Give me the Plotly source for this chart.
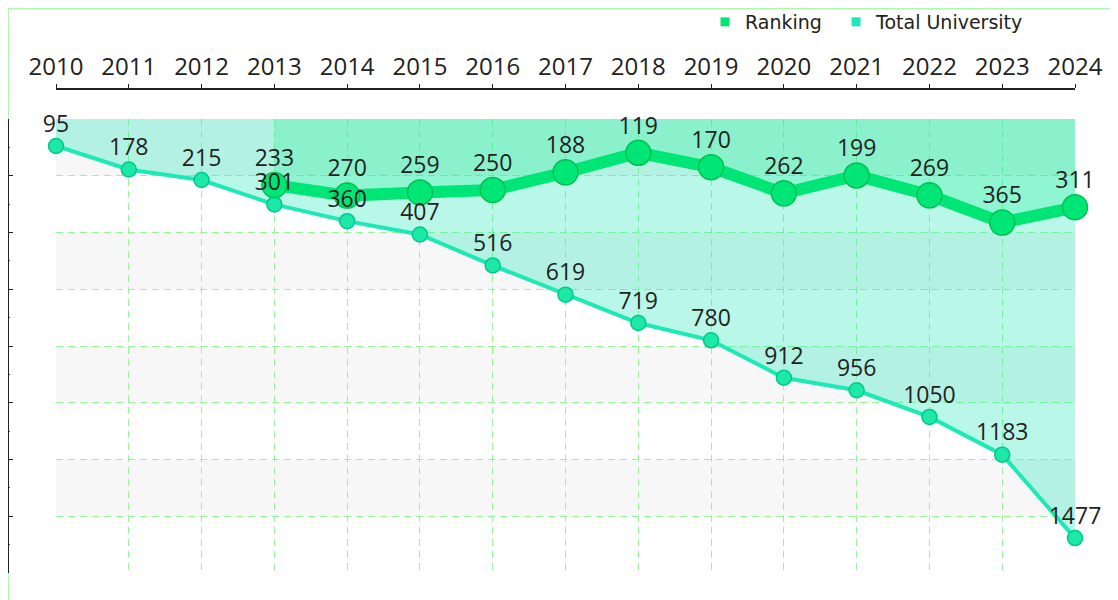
import plotly.graph_objects as go

years = list(range(2010, 2025))
total_university = [95, 178, 215, 301, 360, 407, 516, 619, 719, 780, 912, 956, 1050, 1183, 1477]
ranking_years = list(range(2013, 2025))
ranking = [233, 270, 259, 250, 188, 119, 170, 262, 199, 269, 365, 311]
y_ticks = list(range(0, 1601, 200))

FONT = "Open Sans"
LEG_FONT = "DejaVu Sans"
TU_COLOR = "#1de9b6"
RK_COLOR = "#00e676"
GRID = "#98f598"

fig = go.Figure()

fig.add_trace(go.Scatter(
    x=years, y=total_university, mode="lines+markers",
    name="Total University", showlegend=False,
    line=dict(color=TU_COLOR, width=4),
    marker=dict(size=15, color="#1de9a6", line=dict(color="#00c88c", width=1.5)),
    fill="tozeroy", fillcolor="rgba(29,233,182,0.31)",
    cliponaxis=False,
))
fig.add_trace(go.Scatter(
    x=ranking_years, y=ranking, mode="lines+markers",
    name="Ranking", showlegend=False,
    line=dict(color=RK_COLOR, width=12),
    marker=dict(size=25, color=RK_COLOR, line=dict(color="#00c050", width=1.5)),
    fill="tozeroy", fillcolor="rgba(0,235,130,0.22)",
    cliponaxis=False,
))
# value labels (invisible markers set the label offset)
fig.add_trace(go.Scatter(
    x=ranking_years, y=ranking, mode="markers+text", showlegend=False, hoverinfo="skip",
    marker=dict(size=20, opacity=0),
    text=[str(v) for v in ranking], textposition="top center",
    textfont=dict(family=FONT, size=23, color="#222222"),
    cliponaxis=False,
))
fig.add_trace(go.Scatter(
    x=years, y=total_university, mode="markers+text", showlegend=False, hoverinfo="skip",
    marker=dict(size=12, opacity=0),
    text=[str(v) for v in total_university], textposition="top center",
    textfont=dict(family=FONT, size=23, color="#222222"),
    cliponaxis=False,
))
# legend entries (square markers), one legend each
fig.add_trace(go.Scatter(x=[None], y=[None], mode="markers", name="Ranking", legend="legend",
                         marker=dict(symbol="square", size=9, color=RK_COLOR)))
fig.add_trace(go.Scatter(x=[None], y=[None], mode="markers", name="Total University", legend="legend2",
                         marker=dict(symbol="square", size=9, color=TU_COLOR)))

# alternating bands
shapes = []
for i in range(0, len(y_ticks) - 1, 2):
    shapes.append(dict(type="rect", xref="x", yref="y", x0=2010, x1=2024,
                       y0=y_ticks[i], y1=y_ticks[i + 1], fillcolor="#f7f7f7",
                       line=dict(width=0), layer="below"))
# frame lines
shapes.append(dict(type="line", xref="paper", yref="paper", x0=0, x1=0,
                   y0=-0.1, y1=1.2, line=dict(color="#b0f5b0", width=2), layer="below"))
shapes.append(dict(type="line", xref="paper", yref="paper", x0=0, x1=1.03,
                   y0=(565 - 0.5) / 484, y1=(565 - 0.5) / 484,
                   line=dict(color="#b0f5b0", width=2), layer="below"))

leg_common = dict(orientation="h", y=(565 - 14) / 484, xanchor="left", yanchor="middle",
                  font=dict(family=LEG_FONT, size=19, color="#222222"),
                  bgcolor="rgba(0,0,0,0)", itemwidth=30)

W, H = 1110, 592
fig.update_layout(
    width=W, height=H,
    margin=dict(l=0, r=30, t=81, b=27, autoexpand=False),
    paper_bgcolor="white", plot_bgcolor="white",
    shapes=shapes,
    showlegend=True,
    legend=dict(x=0.6454, **leg_common),
    legend2=dict(x=0.6454 + 131 / 1080, **leg_common),
    xaxis=dict(
        domain=[48 / 1080, 1067 / 1080],
        range=[2010, 2024], side="top", anchor="free", position=1,
        tickmode="array", tickvals=years, ticktext=[str(y) for y in years],
        tickfont=dict(family=FONT, size=24, color="#222222"),
        showline=True, linecolor="#222222", linewidth=1.5,
        ticks="outside", ticklen=4, tickcolor="#222222",
        showgrid=True, gridcolor=GRID, griddash="7px,5px", gridwidth=1.2,
        zeroline=False, automargin=False,
    ),
    yaxis=dict(
        domain=[0, 454 / 484],
        range=[1600, 0], anchor="free", position=0,
        tickmode="array", tickvals=y_ticks, showticklabels=False,
        showline=True, linecolor="#222222", linewidth=1.5,
        ticks="inside", ticklen=4, tickcolor="#222222",
        minor=dict(tickmode="array", tickvals=[100, 300, 500, 700, 900, 1100, 1300, 1500],
                   ticks="inside", ticklen=1, tickcolor="red"),
        showgrid=True, gridcolor=GRID, griddash="7px,5px", gridwidth=1.2,
        zeroline=False, automargin=False,
    ),
)

fig.write_html("out.html")
